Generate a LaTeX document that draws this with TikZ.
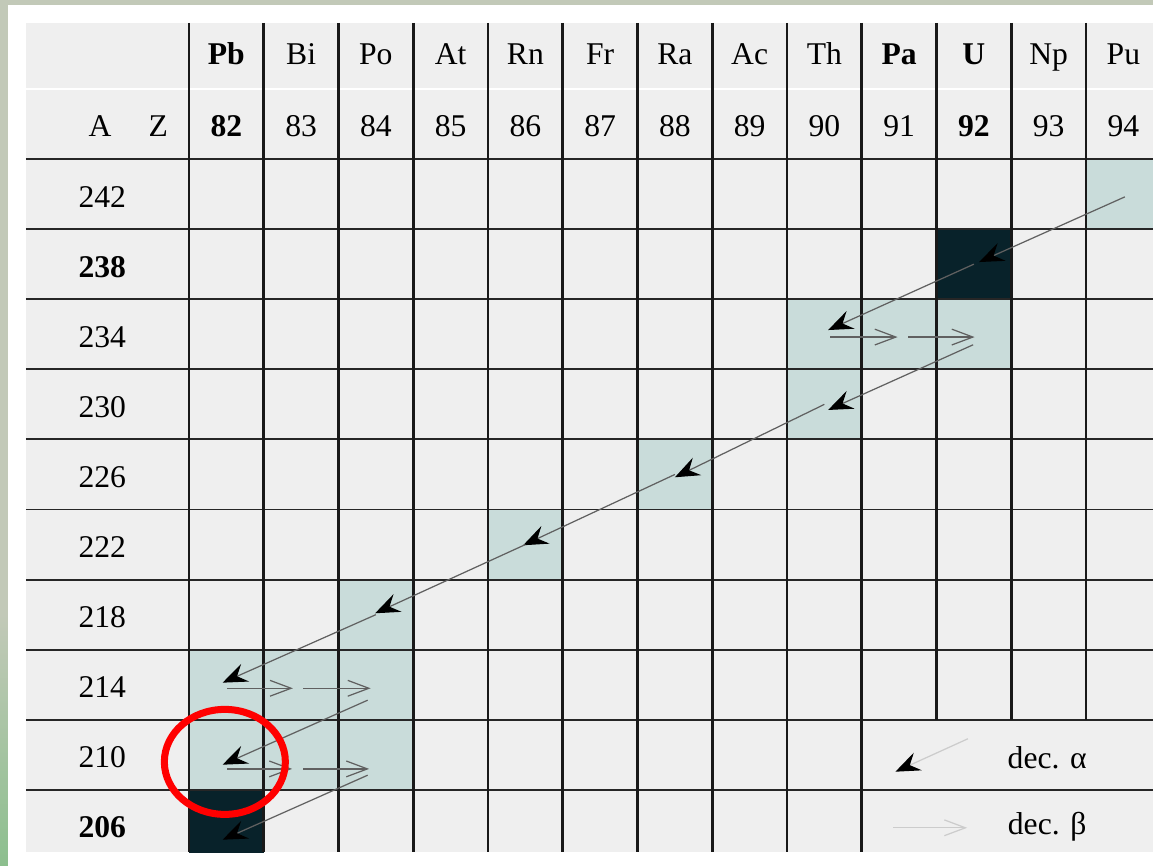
\documentclass[tikz,border=0pt]{standalone}
\usepackage{fontspec}
\setmainfont{Liberation Serif}
\usetikzlibrary{arrows.meta,calc}

\definecolor{framegreen}{HTML}{C2C9B8}
\definecolor{leafgreen}{HTML}{8CBF8E}
\definecolor{tablegrey}{HTML}{EFEFEF}
\definecolor{chaincell}{HTML}{C9DCDA}
\definecolor{endcell}{HTML}{08222A}

\tikzset{
  cell/.style={fill=chaincell, inner sep=0pt, outer sep=0pt,
    minimum width=1.495cm, minimum height=1.402cm},
  endpoint/.style={cell, fill=endcell},
  vrule/.style={black!90, line width=1.6pt},
  hrule/.style={black!85, line width=1.1pt},
  txt/.style={anchor=base, inner sep=0pt, font=\fontsize{18}{20}\selectfont},
  alphadec/.style={gray!75!black, line width=0.7pt,
    -{Stealth[color=black, length=14pt, width=11pt, inset=5pt]}},
  betadec/.style={gray!75!black, line width=0.7pt,
    -{Straight Barb[length=12pt, width=9pt]}},
  legalpha/.style={alphadec, gray!40},
  legbeta/.style={betadec, gray!40}
}

\begin{document}
\begin{tikzpicture}[x={(1.495cm,0)}, y={(0,-1.402cm)}]

% frame and page
\useasboundingbox (-2.528,-2.268) rectangle (12.896,10.085);
\fill[framegreen] (-2.528,-2.268) rectangle (12.896,10.085);
\shade[top color=framegreen, bottom color=leafgreen] (-2.528,6.5) rectangle (-2.421,10.085);
\fill[white] (-2.421,-2.197) rectangle (12.896,10.085);
\fill[tablegrey] (-2.181,-1.94) rectangle (12.896,9.886);

% cells of the chain
\begin{scope}
\clip (-2.181,-1.94) rectangle (12.896,9.886);
\node[cell] (Pu242) at (12.5,0.5) {};
\node[endpoint] (U238) at (10.5,1.5) {};
\node[cell] (Th234) at (8.5,2.5) {};
\node[cell] (Pa234) at (9.5,2.5) {};
\node[cell] (U234) at (10.5,2.5) {};
\node[cell] (Th230) at (8.5,3.5) {};
\node[cell] (Ra226) at (6.5,4.5) {};
\node[cell] (Rn222) at (4.5,5.5) {};
\node[cell] (Po218) at (2.5,6.5) {};
\node[cell] (Pb214) at (0.5,7.5) {};
\node[cell] (Bi214) at (1.5,7.5) {};
\node[cell] (Po214) at (2.5,7.5) {};
\node[cell] (Pb210) at (0.5,8.5) {};
\node[cell] (Bi210) at (1.5,8.5) {};
\node[cell] (Po210) at (2.5,8.5) {};
\node[endpoint] (Pb206) at (0.5,9.5) {};
\end{scope}

% grid
\draw[white, line width=0.8pt] (-2.181,-1) -- (12.896,-1);
\foreach \j in {0,...,9}
  \draw[hrule] (-2.181,\j) -- (12.896,\j);
\foreach \i in {0,...,9}
  \draw[vrule] (\i,-1.94) -- (\i,9.886);
\foreach \i in {10,11,12}
  \draw[vrule] (\i,-1.94) -- (\i,8);

% header
\foreach \sym/\z [count=\i from 0] in {{\textbf{Pb}}/{\textbf{82}}, Bi/83, Po/84,
    At/85, Rn/86, Fr/87, Ra/88, Ac/89, Th/90, {\textbf{Pa}}/91,
    {\textbf{U}}/{\textbf{92}}, Np/93, Pu/94} {
  \node[txt] (sym\i) at (\i+0.5,-1.341) {\sym};
  \node[txt] (z\i) at (\i+0.5,-0.314) {\z};
}
\node[txt] (Alab) at (-1.19,-0.314) {A};
\node[txt] (Zlab) at (-0.41,-0.314) {Z};

% mass numbers
\foreach \a [count=\j from 0] in {242, {\textbf{238}}, 234, 230, 226, 222,
    218, 214, 210, {\textbf{206}}}
  \node[txt] (A\j) at (-1.16,\j+0.685) {\a};

% alpha decays
\draw[alphadec] ($(Pu242)+(0.02,0.04)$) -- ($(U238)+(0.07,-0.03)$);
\draw[alphadec] (U238.center) -- ($(Th234)+(0.05,-0.06)$);
\draw[alphadec] ($(U234)+(-0.01,0.15)$) -- ($(Th230)+(0.05,0.08)$);
\draw[alphadec] (Th230.center) -- ($(Ra226)+(0,0.04)$);
\draw[alphadec] (Ra226.center) -- ($(Rn222)+(-0.03,0.01)$);
\draw[alphadec] (Rn222.center) -- ($(Po218)+(-0.01,-0.02)$);
\draw[alphadec] (Po218.center) -- ($(Pb214)+(-0.05,-0.03)$);
\draw[alphadec] ($(Po214)+(-0.11,0.22)$) -- ($(Pb210)+(-0.05,0.14)$);
\draw[alphadec] ($(Po210)+(-0.11,0.29)$) -- ($(Pb206)+(-0.05,0.21)$);

% beta decays
\draw[betadec] ($(Th234)+(0.08,0.04)$) -- ($(Pa234)+(-0.02,0.04)$);
\draw[betadec] ($(Pa234)+(0.12,0.04)$) -- ($(U234)+(0.01,0.04)$);
\draw[betadec] ($(Pb214)+(0.01,0.05)$) -- ($(Bi214)+(-0.11,0.05)$);
\draw[betadec] ($(Bi214)+(0.03,0.05)$) -- ($(Po214)+(-0.07,0.05)$);
\draw[betadec] ($(Pb210)+(0.01,0.2)$) -- ($(Bi210)+(-0.12,0.2)$);
\draw[betadec] ($(Bi210)+(0.03,0.2)$) -- ($(Po210)+(-0.09,0.2)$);

% legend
\coordinate (legA1) at (10.42,8.27);
\coordinate (legA2) at (9.45,8.74);
\coordinate (legB1) at (9.42,9.54);
\coordinate (legB2) at (10.41,9.54);
\draw[legalpha] (legA1) -- (legA2);
\draw[legbeta] (legB1) -- (legB2);
\node[txt] (decA) at (11.48,8.69) {dec. α};
\node[txt] (decB) at (11.48,9.64) {dec. β};

% mark
\draw[red, line width=4pt] (0.48,8.60) ellipse [x radius=1.21cm, y radius=1.05cm];

\end{tikzpicture}
\end{document}
